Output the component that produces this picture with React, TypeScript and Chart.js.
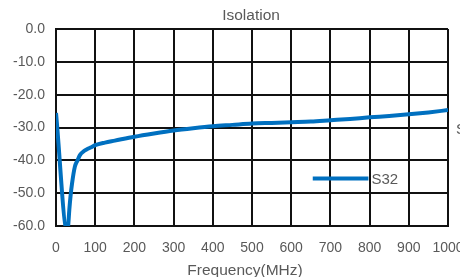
import React, { useEffect, useRef } from "react";
import { Chart, registerables } from "chart.js";

Chart.register(...registerables);

const chartTitle = "Isolation";
const xTitle = "Frequency(MHz)";
const seriesName = "S32";
const frequencies = [0, 29, 31, 34, 37, 41, 48, 55, 61, 70, 78, 90, 100, 125, 150, 200, 250, 300, 350, 400, 450, 500, 550, 600, 650, 700, 750, 800, 850, 900, 950, 1000];
const s32 = [-25.6, -62, -60, -55, -51, -47, -42, -40, -38.4, -37.3, -36.7, -36, -35.4, -34.6, -34, -32.8, -31.8, -30.9, -30.2, -29.6, -29.2, -28.8, -28.6, -28.4, -28.2, -27.8, -27.4, -26.9, -26.5, -26.0, -25.4, -24.7];
const xTicks = [0, 100, 200, 300, 400, 500, 600, 700, 800, 900, 1000];
const yTicks = [0, -10, -20, -30, -40, -50, -60];

const BLUE = "#0070C0";
const GRAY = "#595959";
const FONT = "'Liberation Sans', Arial, sans-serif";

export default function App() {
  const ref = useRef<HTMLCanvasElement>(null);
  useEffect(() => {
    const canvas = ref.current;
    if (!canvas) return;
    const textPlugin = {
      id: "texts",
      afterDraw(chart: any) {
        const ctx = chart.ctx;
        const area = chart.chartArea;
        ctx.save();
        ctx.fillStyle = GRAY;
        ctx.textBaseline = "alphabetic";
        ctx.textAlign = "center";
        ctx.font = `15.5px ${FONT}`;
        ctx.fillText(chartTitle, (area.left + area.right) / 2 - 1, 20);
        ctx.fillText(xTitle, 245, 274.5);
        const yScale = chart.scales.y;
        const xScale = chart.scales.x;
        const ly = yScale.getPixelForValue(-45.5);
        const lx0 = xScale.getPixelForValue(655);
        const lx1 = xScale.getPixelForValue(797);
        ctx.strokeStyle = BLUE;
        ctx.lineWidth = 4;
        ctx.beginPath();
        ctx.moveTo(lx0, ly);
        ctx.lineTo(lx1, ly);
        ctx.stroke();
        ctx.textAlign = "left";
        ctx.textBaseline = "middle";
        ctx.font = `15px ${FONT}`;
        ctx.fillText(seriesName, lx1 + 3, ly + 1);
        ctx.fillText("S", 456, yScale.getPixelForValue(-30.8));
        ctx.restore();
      },
    };
    const chart = new Chart(canvas, {
      type: "line",
      data: {
        datasets: [
          {
            label: seriesName,
            data: frequencies.map((f, i) => ({ x: f, y: s32[i] })),
            borderColor: BLUE,
            backgroundColor: BLUE,
            borderWidth: 4,
            pointRadius: 0,
            cubicInterpolationMode: "monotone",
          },
        ],
      },
      options: {
        responsive: false,
        animation: false,
        layout: { padding: { left: 0, top: 29, right: 32, bottom: 0 } },
        plugins: { legend: { display: false }, title: { display: false }, tooltip: { enabled: false } },
        scales: {
          x: {
            type: "linear",
            min: 0,
            max: 1000,
            afterBuildTicks: (s: any) => {
              s.ticks = xTicks.map((v) => ({ value: v }));
            },
            afterFit: (s: any) => {
              s.height = 51;
            },
            grid: { color: "#111", lineWidth: 2, drawTicks: false },
            border: { color: "#111", width: 2 },
            ticks: {
              color: GRAY,
              font: { family: FONT, size: 14 },
              padding: 14,
              maxRotation: 0,
              autoSkip: false,
              callback: (v: any) => String(v),
            },
          },
          y: {
            min: -60,
            max: 0,
            afterBuildTicks: (s: any) => {
              s.ticks = yTicks.map((v) => ({ value: v }));
            },
            afterFit: (s: any) => {
              s.width = 56;
            },
            grid: { color: "#111", lineWidth: 2, drawTicks: false },
            border: { color: "#111", width: 2 },
            ticks: {
              color: GRAY,
              font: { family: FONT, size: 14 },
              padding: 11,
              callback: (v: any) => Number(v).toFixed(1),
            },
          },
        },
      },
      plugins: [textPlugin],
    });
    return () => chart.destroy();
  }, []);
  return (
    <div style={{ position: "fixed", left: 0, top: 0, width: 460, height: 277, overflow: "hidden", background: "#fff" }}>
      <canvas ref={ref} width={480} height={277} style={{ display: "block" }} />
    </div>
  );
}
